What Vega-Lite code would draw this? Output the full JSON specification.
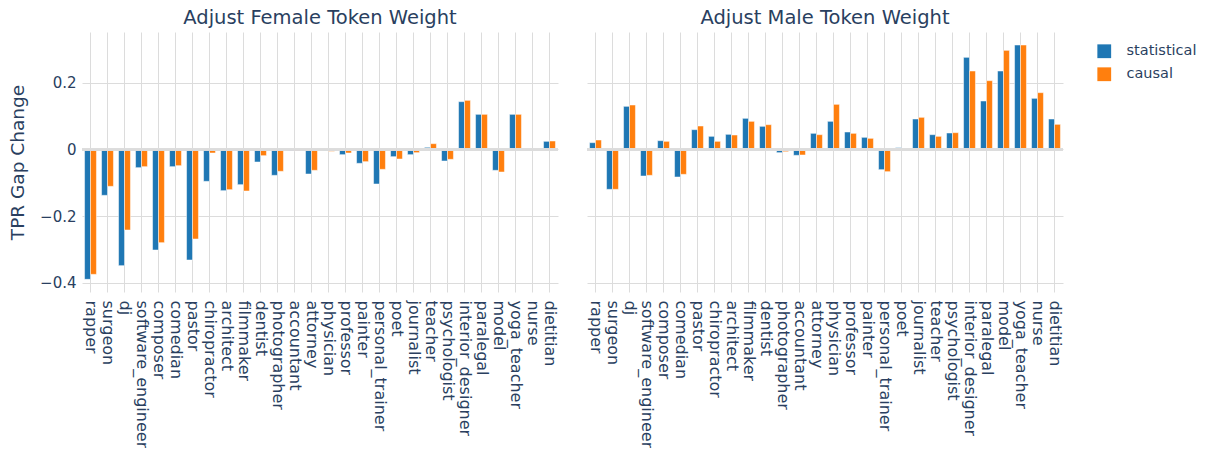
{
  "$schema": "https://vega.github.io/schema/vega-lite/v6.json",
  "padding": {"left": 8, "top": 7, "right": 5, "bottom": 0},
  "background": "white",
  "config": {
    "font": "DejaVu Sans",
    "view": {"stroke": null},
    "axis": {"labelColor": "#2a3f5f", "titleColor": "#2a3f5f", "gridColor": "#dcdcdc", "domain": false, "ticks": false}
  },
  "data": {"values": [
    {"panel":"Adjust Female Token Weight","occupation":"rapper","method":"statistical","value":-0.39},
    {"panel":"Adjust Female Token Weight","occupation":"surgeon","method":"statistical","value":-0.138},
    {"panel":"Adjust Female Token Weight","occupation":"dj","method":"statistical","value":-0.349},
    {"panel":"Adjust Female Token Weight","occupation":"software_engineer","method":"statistical","value":-0.055},
    {"panel":"Adjust Female Token Weight","occupation":"composer","method":"statistical","value":-0.302},
    {"panel":"Adjust Female Token Weight","occupation":"comedian","method":"statistical","value":-0.052},
    {"panel":"Adjust Female Token Weight","occupation":"pastor","method":"statistical","value":-0.332},
    {"panel":"Adjust Female Token Weight","occupation":"chiropractor","method":"statistical","value":-0.096},
    {"panel":"Adjust Female Token Weight","occupation":"architect","method":"statistical","value":-0.124},
    {"panel":"Adjust Female Token Weight","occupation":"filmmaker","method":"statistical","value":-0.106},
    {"panel":"Adjust Female Token Weight","occupation":"dentist","method":"statistical","value":-0.038},
    {"panel":"Adjust Female Token Weight","occupation":"photographer","method":"statistical","value":-0.078},
    {"panel":"Adjust Female Token Weight","occupation":"accountant","method":"statistical","value":-0.004},
    {"panel":"Adjust Female Token Weight","occupation":"attorney","method":"statistical","value":-0.074},
    {"panel":"Adjust Female Token Weight","occupation":"physician","method":"statistical","value":-0.003},
    {"panel":"Adjust Female Token Weight","occupation":"professor","method":"statistical","value":-0.016},
    {"panel":"Adjust Female Token Weight","occupation":"painter","method":"statistical","value":-0.042},
    {"panel":"Adjust Female Token Weight","occupation":"personal_trainer","method":"statistical","value":-0.104},
    {"panel":"Adjust Female Token Weight","occupation":"poet","method":"statistical","value":-0.022},
    {"panel":"Adjust Female Token Weight","occupation":"journalist","method":"statistical","value":-0.016},
    {"panel":"Adjust Female Token Weight","occupation":"teacher","method":"statistical","value":0.006},
    {"panel":"Adjust Female Token Weight","occupation":"psychologist","method":"statistical","value":-0.035},
    {"panel":"Adjust Female Token Weight","occupation":"interior_designer","method":"statistical","value":0.143},
    {"panel":"Adjust Female Token Weight","occupation":"paralegal","method":"statistical","value":0.105},
    {"panel":"Adjust Female Token Weight","occupation":"model","method":"statistical","value":-0.063},
    {"panel":"Adjust Female Token Weight","occupation":"yoga_teacher","method":"statistical","value":0.105},
    {"panel":"Adjust Female Token Weight","occupation":"nurse","method":"statistical","value":0.0},
    {"panel":"Adjust Female Token Weight","occupation":"dietitian","method":"statistical","value":0.024},
    {"panel":"Adjust Female Token Weight","occupation":"rapper","method":"causal","value":-0.375},
    {"panel":"Adjust Female Token Weight","occupation":"surgeon","method":"causal","value":-0.111},
    {"panel":"Adjust Female Token Weight","occupation":"dj","method":"causal","value":-0.242},
    {"panel":"Adjust Female Token Weight","occupation":"software_engineer","method":"causal","value":-0.052},
    {"panel":"Adjust Female Token Weight","occupation":"composer","method":"causal","value":-0.28},
    {"panel":"Adjust Female Token Weight","occupation":"comedian","method":"causal","value":-0.049},
    {"panel":"Adjust Female Token Weight","occupation":"pastor","method":"causal","value":-0.269},
    {"panel":"Adjust Female Token Weight","occupation":"chiropractor","method":"causal","value":-0.011},
    {"panel":"Adjust Female Token Weight","occupation":"architect","method":"causal","value":-0.121},
    {"panel":"Adjust Female Token Weight","occupation":"filmmaker","method":"causal","value":-0.125},
    {"panel":"Adjust Female Token Weight","occupation":"dentist","method":"causal","value":-0.019},
    {"panel":"Adjust Female Token Weight","occupation":"photographer","method":"causal","value":-0.066},
    {"panel":"Adjust Female Token Weight","occupation":"accountant","method":"causal","value":-0.005},
    {"panel":"Adjust Female Token Weight","occupation":"attorney","method":"causal","value":-0.063},
    {"panel":"Adjust Female Token Weight","occupation":"physician","method":"causal","value":-0.006},
    {"panel":"Adjust Female Token Weight","occupation":"professor","method":"causal","value":-0.011},
    {"panel":"Adjust Female Token Weight","occupation":"painter","method":"causal","value":-0.037},
    {"panel":"Adjust Female Token Weight","occupation":"personal_trainer","method":"causal","value":-0.06},
    {"panel":"Adjust Female Token Weight","occupation":"poet","method":"causal","value":-0.029},
    {"panel":"Adjust Female Token Weight","occupation":"journalist","method":"causal","value":-0.01},
    {"panel":"Adjust Female Token Weight","occupation":"teacher","method":"causal","value":0.017},
    {"panel":"Adjust Female Token Weight","occupation":"psychologist","method":"causal","value":-0.03},
    {"panel":"Adjust Female Token Weight","occupation":"interior_designer","method":"causal","value":0.147},
    {"panel":"Adjust Female Token Weight","occupation":"paralegal","method":"causal","value":0.105},
    {"panel":"Adjust Female Token Weight","occupation":"model","method":"causal","value":-0.068},
    {"panel":"Adjust Female Token Weight","occupation":"yoga_teacher","method":"causal","value":0.105},
    {"panel":"Adjust Female Token Weight","occupation":"nurse","method":"causal","value":0.0},
    {"panel":"Adjust Female Token Weight","occupation":"dietitian","method":"causal","value":0.025},
    {"panel":"Adjust Male Token Weight","occupation":"rapper","method":"statistical","value":0.02},
    {"panel":"Adjust Male Token Weight","occupation":"surgeon","method":"statistical","value":-0.12},
    {"panel":"Adjust Male Token Weight","occupation":"dj","method":"statistical","value":0.129},
    {"panel":"Adjust Male Token Weight","occupation":"software_engineer","method":"statistical","value":-0.08},
    {"panel":"Adjust Male Token Weight","occupation":"composer","method":"statistical","value":0.026},
    {"panel":"Adjust Male Token Weight","occupation":"comedian","method":"statistical","value":-0.083},
    {"panel":"Adjust Male Token Weight","occupation":"pastor","method":"statistical","value":0.059},
    {"panel":"Adjust Male Token Weight","occupation":"chiropractor","method":"statistical","value":0.039},
    {"panel":"Adjust Male Token Weight","occupation":"architect","method":"statistical","value":0.045},
    {"panel":"Adjust Male Token Weight","occupation":"filmmaker","method":"statistical","value":0.093},
    {"panel":"Adjust Male Token Weight","occupation":"dentist","method":"statistical","value":0.069},
    {"panel":"Adjust Male Token Weight","occupation":"photographer","method":"statistical","value":-0.01},
    {"panel":"Adjust Male Token Weight","occupation":"accountant","method":"statistical","value":-0.018},
    {"panel":"Adjust Male Token Weight","occupation":"attorney","method":"statistical","value":0.048},
    {"panel":"Adjust Male Token Weight","occupation":"physician","method":"statistical","value":0.084},
    {"panel":"Adjust Male Token Weight","occupation":"professor","method":"statistical","value":0.052},
    {"panel":"Adjust Male Token Weight","occupation":"painter","method":"statistical","value":0.036},
    {"panel":"Adjust Male Token Weight","occupation":"personal_trainer","method":"statistical","value":-0.061},
    {"panel":"Adjust Male Token Weight","occupation":"poet","method":"statistical","value":0.005},
    {"panel":"Adjust Male Token Weight","occupation":"journalist","method":"statistical","value":0.091},
    {"panel":"Adjust Male Token Weight","occupation":"teacher","method":"statistical","value":0.044},
    {"panel":"Adjust Male Token Weight","occupation":"psychologist","method":"statistical","value":0.049},
    {"panel":"Adjust Male Token Weight","occupation":"interior_designer","method":"statistical","value":0.276},
    {"panel":"Adjust Male Token Weight","occupation":"paralegal","method":"statistical","value":0.145},
    {"panel":"Adjust Male Token Weight","occupation":"model","method":"statistical","value":0.235},
    {"panel":"Adjust Male Token Weight","occupation":"yoga_teacher","method":"statistical","value":0.313},
    {"panel":"Adjust Male Token Weight","occupation":"nurse","method":"statistical","value":0.153},
    {"panel":"Adjust Male Token Weight","occupation":"dietitian","method":"statistical","value":0.091},
    {"panel":"Adjust Male Token Weight","occupation":"rapper","method":"causal","value":0.028},
    {"panel":"Adjust Male Token Weight","occupation":"surgeon","method":"causal","value":-0.12},
    {"panel":"Adjust Male Token Weight","occupation":"dj","method":"causal","value":0.133},
    {"panel":"Adjust Male Token Weight","occupation":"software_engineer","method":"causal","value":-0.078},
    {"panel":"Adjust Male Token Weight","occupation":"composer","method":"causal","value":0.024},
    {"panel":"Adjust Male Token Weight","occupation":"comedian","method":"causal","value":-0.075},
    {"panel":"Adjust Male Token Weight","occupation":"pastor","method":"causal","value":0.07},
    {"panel":"Adjust Male Token Weight","occupation":"chiropractor","method":"causal","value":0.024},
    {"panel":"Adjust Male Token Weight","occupation":"architect","method":"causal","value":0.043},
    {"panel":"Adjust Male Token Weight","occupation":"filmmaker","method":"causal","value":0.084},
    {"panel":"Adjust Male Token Weight","occupation":"dentist","method":"causal","value":0.074},
    {"panel":"Adjust Male Token Weight","occupation":"photographer","method":"causal","value":-0.007},
    {"panel":"Adjust Male Token Weight","occupation":"accountant","method":"causal","value":-0.017},
    {"panel":"Adjust Male Token Weight","occupation":"attorney","method":"causal","value":0.044},
    {"panel":"Adjust Male Token Weight","occupation":"physician","method":"causal","value":0.135},
    {"panel":"Adjust Male Token Weight","occupation":"professor","method":"causal","value":0.048},
    {"panel":"Adjust Male Token Weight","occupation":"painter","method":"causal","value":0.033},
    {"panel":"Adjust Male Token Weight","occupation":"personal_trainer","method":"causal","value":-0.067},
    {"panel":"Adjust Male Token Weight","occupation":"poet","method":"causal","value":0.001},
    {"panel":"Adjust Male Token Weight","occupation":"journalist","method":"causal","value":0.096},
    {"panel":"Adjust Male Token Weight","occupation":"teacher","method":"causal","value":0.039},
    {"panel":"Adjust Male Token Weight","occupation":"psychologist","method":"causal","value":0.05},
    {"panel":"Adjust Male Token Weight","occupation":"interior_designer","method":"causal","value":0.235},
    {"panel":"Adjust Male Token Weight","occupation":"paralegal","method":"causal","value":0.206},
    {"panel":"Adjust Male Token Weight","occupation":"model","method":"causal","value":0.297},
    {"panel":"Adjust Male Token Weight","occupation":"yoga_teacher","method":"causal","value":0.313},
    {"panel":"Adjust Male Token Weight","occupation":"nurse","method":"causal","value":0.17},
    {"panel":"Adjust Male Token Weight","occupation":"dietitian","method":"causal","value":0.075}
  ]},
  "facet": {
    "column": {
      "field": "panel",
      "type": "nominal",
      "sort": ["Adjust Female Token Weight", "Adjust Male Token Weight"],
      "title": null,
      "header": {"labelFontSize": 19.5, "labelColor": "#2a3f5f", "labelPadding": 4, "labelFont": "DejaVu Sans"}
    }
  },
  "spacing": 27,
  "spec": {
    "width": 476,
    "height": 260,
    "layer": [
      {
        "mark": {"type": "bar", "stroke": "white", "strokeWidth": 0.5},
        "encoding": {
          "x": {
            "field": "occupation",
            "type": "nominal",
            "sort": ["rapper","surgeon","dj","software_engineer","composer","comedian","pastor","chiropractor","architect","filmmaker","dentist","photographer","accountant","attorney","physician","professor","painter","personal_trainer","poet","journalist","teacher","psychologist","interior_designer","paralegal","model","yoga_teacher","nurse","dietitian"],
            "scale": {"paddingInner": 0.3, "paddingOuter": 0.15},
            "title": null,
            "axis": {"labelAngle": 90, "labelFontSize": 16, "grid": true, "labelPadding": 8}
          },
          "xOffset": {"field": "method", "type": "nominal", "sort": ["statistical", "causal"]},
          "y": {
            "field": "value",
            "type": "quantitative",
            "scale": {"domain": [-0.428, 0.352], "nice": false, "zero": false},
            "title": "TPR Gap Change",
            "axis": {
              "values": [-0.4, -0.2, 0, 0.2],
              "labelExpr": "datum.value == 0 ? '0' : replace(format(datum.value, '.1f'), '-', '\u2212')",
              "labelFontSize": 15,
              "titleFontSize": 18.5,
              "titleFontWeight": "normal",
              "titlePadding": 12,
              "labelPadding": 5
            }
          },
          "color": {
            "field": "method",
            "type": "nominal",
            "sort": ["statistical", "causal"],
            "scale": {"domain": ["statistical", "causal"], "range": ["#1f77b4", "#ff7f0e"]},
            "legend": {"title": null, "labelFontSize": 14.5, "labelColor": "#2a3f5f", "symbolType": "square", "symbolSize": 190, "symbolStrokeWidth": 0, "offset": 21, "rowPadding": 7, "labelOffset": 15, "padding": 12}
          }
        }
      },
      {
        "mark": {"type": "rule", "color": "#dcdcdc", "strokeWidth": 2},
        "encoding": {"y": {"datum": 0}}
      }
    ]
  }
}
